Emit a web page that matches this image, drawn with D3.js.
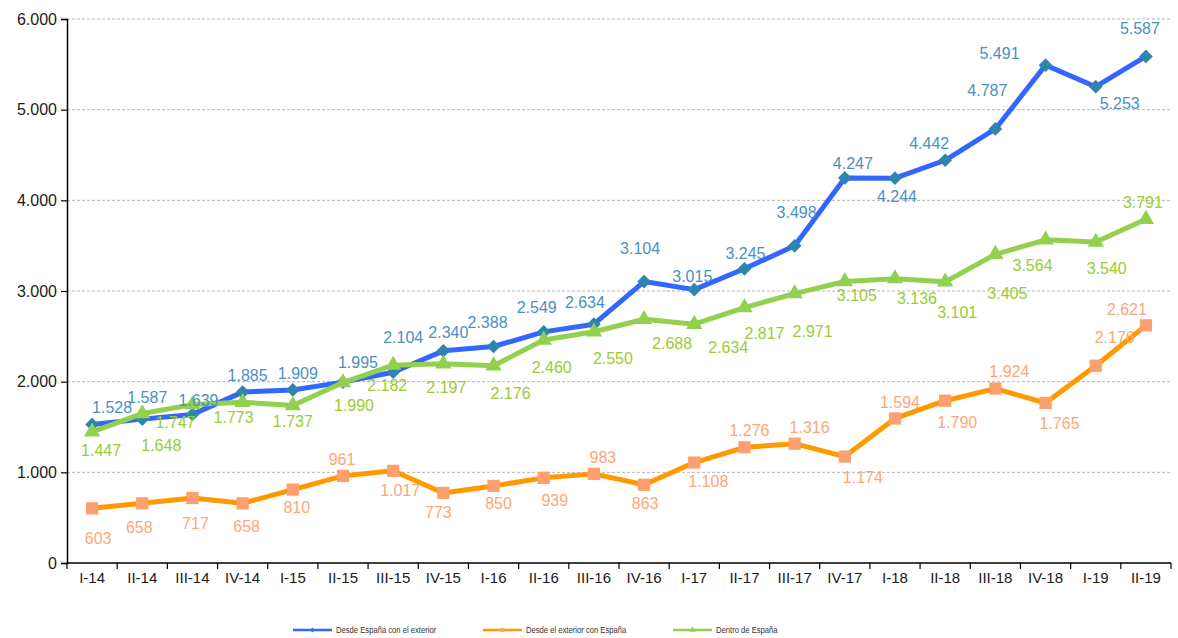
<!DOCTYPE html>
<html>
<head>
<meta charset="utf-8">
<script src="https://cdn.jsdelivr.net/npm/d3@7"></script>
<style>
  body { margin: 0; background: #fff; }
  svg { font-family: "Liberation Sans", Arial, sans-serif; }
</style>
</head>
<body>
<div id="chart"></div>
<script>
const quarters = ["I-14","II-14","III-14","IV-14","I-15","II-15","III-15","IV-15","I-16","II-16","III-16","IV-16",
  "I-17","II-17","III-17","IV-17","I-18","II-18","III-18","IV-18","I-19","II-19"];
const desdeEspana = [1528,1587,1639,1885,1909,1995,2104,2340,2388,2549,2634,3104,3015,3245,3498,4247,4244,4442,4787,5491,5253,5587];
const desdeExterior = [603,658,717,658,810,961,1017,773,850,939,983,863,1108,1276,1316,1174,1594,1790,1924,1765,2176,2621];
const dentroEspana = [1447,1648,1747,1773,1737,1990,2182,2197,2176,2460,2550,2688,2634,2817,2971,3105,3136,3101,3405,3564,3540,3791];
const yTicks = [0,1000,2000,3000,4000,5000,6000];

// label offsets (dx, dy) relative to each point, as placed in the original
const offBlue = [[20,-17],[5,-22],[6,-14],[5,-17],[5,-17],[15,-20],[10,-35],[5,-19],[-6,-24],[-7,-25],[-9,-22],
  [-4,-33],[-2,-13],[1,-16],[2,-34],[8,-15],[2,18],[-16,-17],[-8,-39],[-46,-12],[24,17],[-6,-28]];
const offOrange = [[6,30],[-3,24],[3,25],[4,23],[4,18],[-1,-17],[7,19],[-5,19],[5,17],[11,22],[9,-17],
  [1,18],[14,19],[5,-17],[15,-16],[18,21],[5,-16],[12,22],[14,-17],[14,20],[19,-28],[-19,-16]];
const offGreen = [[9,18],[19,32],[-17,18],[-9,15],[0,16],[11,23],[-6,20],[3,23],[17,28],[8,27],[19,26],
  [28,24],[34,23],[20,26],[18,38],[12,14],[22,20],[12,30],[12,39],[-13,25],[11,26],[-3,-17]];

const series = [
  { name: "Desde España con el exterior", values: desdeEspana, offs: offBlue,
    line: "#3366ff", marker: "#2e86ab", label: "#4a90c2", shape: d3.symbolDiamond2, size: 120 },
  { name: "Desde el exterior con España", values: desdeExterior, offs: offOrange,
    line: "#ff9900", marker: "#fd9f6f", label: "#ffa678", shape: d3.symbolSquare, size: 150 },
  { name: "Dentro de España", values: dentroEspana, offs: offGreen,
    line: "#92d050", marker: "#92d050", label: "#99cc33", shape: d3.symbolTriangle, size: 115 }
];

const W = 1178, H = 638;
const margin = { top: 19, right: 7, bottom: 75, left: 67 };
const width = W - margin.left - margin.right;
const height = H - margin.top - margin.bottom;

const loc = d3.formatLocale({ decimal: ",", thousands: ".", grouping: [3], currency: ["", "€"] });
const fmt = loc.format(",d");

const svg = d3.select("#chart").append("svg")
  .attr("width", W).attr("height", H)
  .append("g")
  .attr("transform", "translate(" + margin.left + "," + margin.top + ")");

const x = d3.scaleBand().domain(quarters).range([0, width]).padding(0);
const y = d3.scaleLinear().domain([0, 6000]).range([height, 0]);
const cx = d => x(d) + x.bandwidth() / 2;

// gridlines
svg.append("g").selectAll("line")
  .data(yTicks.filter(t => t > 0))
  .enter().append("line")
  .attr("x1", 0).attr("x2", width)
  .attr("y1", d => y(d)).attr("y2", d => y(d))
  .attr("stroke", "#b5b5b5").attr("stroke-width", 1)
  .attr("stroke-dasharray", "3,2");

// y axis
const yAxis = svg.append("g")
  .call(d3.axisLeft(y).tickValues(yTicks).tickFormat(fmt).tickSize(6).tickPadding(4));
yAxis.select(".domain").attr("stroke", "#000").attr("stroke-width", 1.5);
yAxis.selectAll(".tick line").attr("stroke", "#000").attr("stroke-width", 1.2);
yAxis.selectAll("text").attr("font-size", 16).attr("fill", "#1a1a1a")
  .attr("font-family", "Liberation Sans, Arial, sans-serif");

// x axis: labels centered, ticks on band boundaries
const xAxis = svg.append("g")
  .attr("transform", "translate(0," + height + ")")
  .call(d3.axisBottom(x).tickSize(0).tickPadding(9));
xAxis.select(".domain").remove();
xAxis.selectAll("text").attr("font-size", 15).attr("fill", "#1a1a1a")
  .attr("font-family", "Liberation Sans, Arial, sans-serif");
svg.append("line")
  .attr("x1", 0).attr("x2", width).attr("y1", height).attr("y2", height)
  .attr("stroke", "#000").attr("stroke-width", 1.5);
svg.append("g").selectAll("line")
  .data(quarters.concat(["end"]))
  .enter().append("line")
  .attr("x1", (d, i) => i * x.bandwidth()).attr("x2", (d, i) => i * x.bandwidth())
  .attr("y1", height).attr("y2", height + 6)
  .attr("stroke", "#000").attr("stroke-width", 1.2);

const line = d3.line().x((d, i) => cx(quarters[i])).y(d => y(d));

// draw order: orange, blue, green on top
[series[1], series[0], series[2]].forEach(s => {
  const g = svg.append("g");
  g.append("path").datum(s.values)
    .attr("d", line).attr("fill", "none")
    .attr("stroke", s.line).attr("stroke-width", 5)
    .attr("stroke-linejoin", "round");
  g.selectAll("path.m").data(s.values).enter().append("path")
    .attr("class", "m")
    .attr("d", d3.symbol().type(s.shape).size(s.size))
    .attr("transform", (d, i) => "translate(" + cx(quarters[i]) + "," + y(d) + ")")
    .attr("fill", s.marker);
});

// value labels
series.forEach(s => {
  svg.append("g").selectAll("text").data(s.values).enter().append("text")
    .attr("x", (d, i) => cx(quarters[i]) + s.offs[i][0])
    .attr("y", (d, i) => y(d) + s.offs[i][1])
    .attr("dy", "0.36em")
    .attr("text-anchor", "middle")
    .attr("font-size", 16)
    .attr("fill", s.label)
    .text(d => fmt(d));
});

// legend
const legendX = [293 - margin.left, 483 - margin.left, 673 - margin.left];
const legend = svg.append("g").attr("transform", "translate(0," + (630 - margin.top) + ")");
series.forEach((s, i) => {
  const lg = legend.append("g").attr("transform", "translate(" + legendX[i] + ",0)");
  lg.append("line").attr("x1", 0).attr("x2", 39).attr("y1", 0).attr("y2", 0)
    .attr("stroke", s.line).attr("stroke-width", 2.5);
  lg.append("path")
    .attr("d", d3.symbol().type(s.shape).size(16))
    .attr("transform", "translate(19.5,0)")
    .attr("fill", s.marker);
  lg.append("text")
    .attr("transform", "translate(43,0) scale(0.85,1)")
    .attr("dy", "0.35em")
    .attr("font-size", 9).attr("fill", "#333").text(s.name);
});
</script>
</body>
</html>
